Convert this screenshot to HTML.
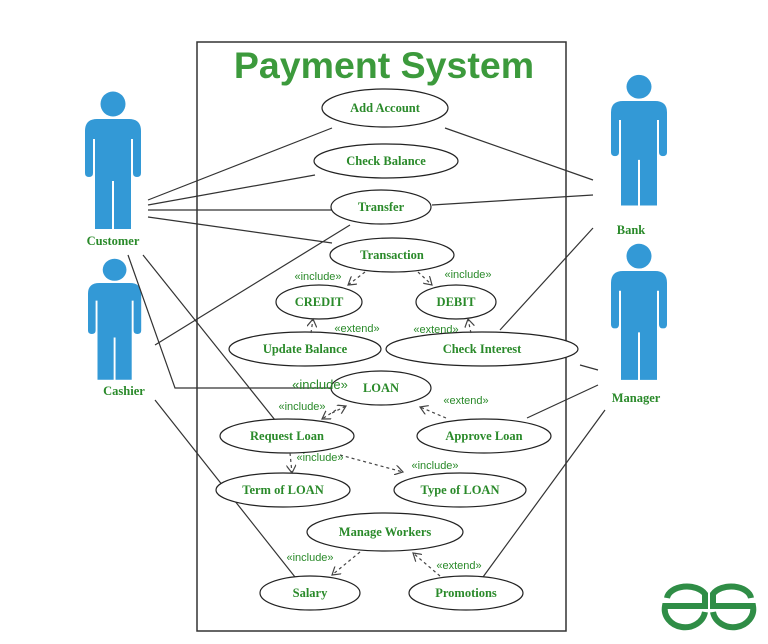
<!DOCTYPE html>
<html><head><meta charset="utf-8"><style>
html,body{margin:0;padding:0;background:#fff;}
svg{display:block;}
.u{font-family:"Liberation Serif",serif;font-weight:bold;font-size:12.5px;fill:#2a8a2a;text-anchor:middle;}
.s{font-family:"Liberation Sans",sans-serif;font-size:11px;fill:#2a8a2a;text-anchor:middle;}
.e{fill:#fff;stroke:#222;stroke-width:1.2;}
.l{stroke:#333;stroke-width:1.2;fill:none;}
.d{stroke:#444;stroke-width:1.2;fill:none;stroke-dasharray:3,3;marker-end:url(#a);}
.act{fill:#3399d6;}
</style></head><body>
<svg width="768" height="644" viewBox="0 0 768 644" xmlns="http://www.w3.org/2000/svg">
<defs>
<marker id="a" markerWidth="10" markerHeight="10" refX="8" refY="5" orient="auto" markerUnits="userSpaceOnUse"><path d="M0,0 L8,5 L0,10" fill="none" stroke="#444" stroke-width="1.2"/></marker>
<g id="actor">
<circle cx="28" cy="-15" r="12.5"/>
<path d="M0,12 Q0,0 12,0 H44 Q56,0 56,12 V54 Q56,58 52,58 Q48,58 48,54 V20 H46 V110 H29 V62 H27 V110 H10 V20 H8 V54 Q8,58 4,58 Q0,58 0,54 Z"/>
</g>
</defs>
<rect x="197" y="42" width="369" height="589" fill="#fff" stroke="#333" stroke-width="1.5"/>
<text x="384" y="78" font-family="Liberation Sans,sans-serif" font-weight="bold" font-size="37.5" fill="#3c9a3c" text-anchor="middle">Payment System</text>

<g class="act">
<use href="#actor" transform="translate(85,119)"/>
<use href="#actor" transform="translate(88,283) scale(0.95,0.88)"/>
<use href="#actor" transform="translate(611,101) scale(1,0.95)"/>
<use href="#actor" transform="translate(611,271) scale(1,0.99)"/>
</g>
<text class="u" x="113" y="245" font-size="12">Customer</text>
<text class="u" x="124" y="395">Cashier</text>
<text class="u" x="631" y="234">Bank</text>
<text class="u" x="636" y="402">Manager</text>

<g class="l">
<line x1="148" y1="200" x2="332" y2="128"/>
<line x1="148" y1="205" x2="315" y2="175"/>
<line x1="148" y1="210" x2="332" y2="210"/>
<line x1="148" y1="217" x2="332" y2="243"/>
<line x1="143" y1="255" x2="275" y2="420"/>
<polyline points="128,255 175,388 331,388"/>
<line x1="155" y1="345" x2="350" y2="225"/>
<line x1="155" y1="400" x2="295" y2="577"/>
<line x1="445" y1="128" x2="593" y2="180"/>
<line x1="432" y1="205" x2="593" y2="195"/>
<line x1="500" y1="330" x2="593" y2="228"/>
<line x1="580" y1="365" x2="598" y2="370"/>
<line x1="527" y1="418" x2="598" y2="385"/>
<line x1="483" y1="577" x2="605" y2="410"/>
</g>

<g class="e">
<ellipse cx="385" cy="108" rx="63" ry="19"/>
<ellipse cx="386" cy="161" rx="72" ry="17"/>
<ellipse cx="381" cy="207" rx="50" ry="17"/>
<ellipse cx="392" cy="255" rx="62" ry="17"/>
<ellipse cx="319" cy="302" rx="43" ry="17"/>
<ellipse cx="456" cy="302" rx="40" ry="17"/>
<ellipse cx="305" cy="349" rx="76" ry="17"/>
<ellipse cx="482" cy="349" rx="96" ry="17"/>
<ellipse cx="381" cy="388" rx="50" ry="17"/>
<ellipse cx="287" cy="436" rx="67" ry="17"/>
<ellipse cx="484" cy="436" rx="67" ry="17"/>
<ellipse cx="283" cy="490" rx="67" ry="17"/>
<ellipse cx="460" cy="490" rx="66" ry="17"/>
<ellipse cx="385" cy="532" rx="78" ry="19"/>
<ellipse cx="310" cy="593" rx="50" ry="17"/>
<ellipse cx="466" cy="593" rx="57" ry="17"/>
</g>
<g class="u">
<text x="385" y="112">Add Account</text>
<text x="386" y="165">Check Balance</text>
<text x="381" y="211">Transfer</text>
<text x="392" y="259">Transaction</text>
<text x="319" y="306">CREDIT</text>
<text x="456" y="306">DEBIT</text>
<text x="305" y="353">Update Balance</text>
<text x="482" y="353">Check Interest</text>
<text x="381" y="392">LOAN</text>
<text x="287" y="440">Request Loan</text>
<text x="484" y="440">Approve Loan</text>
<text x="283" y="494">Term of LOAN</text>
<text x="460" y="494">Type of LOAN</text>
<text x="385" y="536">Manage Workers</text>
<text x="310" y="597">Salary</text>
<text x="466" y="597">Promotions</text>
</g>

<g>
<line class="d" x1="365" y1="272" x2="348" y2="285"/>
<line class="d" x1="418" y1="272" x2="432" y2="285"/>
<line class="d" x1="311" y1="333" x2="313" y2="319"/>
<line class="d" x1="471" y1="333" x2="468" y2="319"/>
<line class="d" x1="332" y1="413" x2="346" y2="406"/>
<line class="d" x1="336" y1="410" x2="322" y2="419"/>
<line class="d" x1="446" y1="418" x2="420" y2="407"/>
<line class="d" x1="290" y1="453" x2="292" y2="473"/>
<line class="d" x1="340" y1="455" x2="403" y2="472"/>
<line class="d" x1="360" y1="552" x2="332" y2="575"/>
<line class="d" x1="440" y1="576" x2="413" y2="553"/>
</g>
<g class="s">
<text x="318" y="280">«include»</text>
<text x="468" y="278">«include»</text>
<text x="357" y="332">«extend»</text>
<text x="436" y="333">«extend»</text>
<text x="320" y="389" font-size="13">«include»</text>
<text x="302" y="410">«include»</text>
<text x="466" y="404">«extend»</text>
<text x="320" y="461">«include»</text>
<text x="435" y="469">«include»</text>
<text x="310" y="561">«include»</text>
<text x="459" y="569">«extend»</text>
</g>

<g fill="none" stroke="#2f8d46" stroke-width="6">
<path d="M667,598 A20,13 0 0 1 705,594 L705,606 L665,606 A20,18 0 0 0 705,612"/>
<path d="M751,598 A20,13 0 0 0 713,594 L713,606 L753,606 A20,18 0 0 1 713,612"/>
</g>
</svg>
</body></html>
